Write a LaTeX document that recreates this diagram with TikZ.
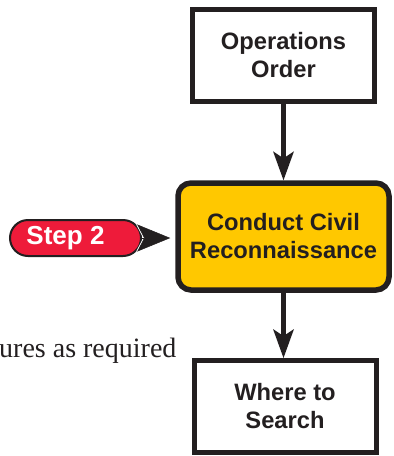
\documentclass[tikz,border=0pt]{standalone}
\usepackage{fontspec}
\usetikzlibrary{arrows.meta}
\newfontfamily\hvb{Liberation Sans}[BoldFont={* Bold}]
\newfontfamily\tms{Liberation Serif}
\definecolor{ink}{HTML}{231F20}
\definecolor{stepred}{HTML}{EE1B3A}
\definecolor{actyellow}{HTML}{FFC800}
\tikzset{
  boxtext/.style={font=\hvb\bfseries\fontsize{23.7}{28}\selectfont, text=ink, align=center, inner sep=0pt},
  plainbox/.style={boxtext, draw=ink, line width=5pt, fill=white, minimum width=182pt, minimum height=92pt},
  activity/.style={boxtext, draw=ink, line width=5.5pt, fill=actyellow, rounded corners=13pt, minimum width=211pt, minimum height=107pt},
  steppill/.style={draw=ink, line width=2pt, fill=stepred, rounded corners=18pt, minimum width=131pt, minimum height=36pt, inner sep=0pt,
    font=\hvb\bfseries\fontsize{26}{30}\selectfont, text=white},
  flow/.style={draw=ink, line width=4.5pt, -{Stealth[length=29pt, width=21pt, inset=7pt, line width=0pt]}},
  headhalo/.style={draw=white, line width=3pt, -{Stealth[length=33pt, width=27pt, inset=7pt]}},
  headfill/.style={draw=ink, fill=ink, line width=0.5pt, -{Stealth[length=33pt, width=27pt, inset=7pt]}}
}
\begin{document}
\begin{tikzpicture}[x=1pt, y=-1pt]
  \useasboundingbox (0,0) rectangle (394,456);

  % flow boxes
  \node[plainbox] (ops) at (283.5,55.5) {Operations\\Order};
  \node[activity] (civil) at (283.5,236.5) {Conduct Civil\\Reconnaissance};
  \node[plainbox] (where) at (285,406.5) {Where to\\Search};

  % step marker
  \node[steppill] (step) at (75.5,238) {Step 2\hspace*{20pt}};

  % connectors
  \draw[flow] (ops.south -| 283.5,0) -- (civil.north);
  \draw[flow] (civil.south) -- (civil.south |- where.north);
  \draw[headhalo, shorten >=6pt] (step.east) -- (step.east -| civil.west);
  \draw[headfill, shorten >=5pt] (step.east) -- (step.east -| civil.west);

  % running text at the left margin
  \node[anchor=base west, inner sep=0pt, font=\tms\fontsize{28}{32}\selectfont, text=ink] (note) at (-1,357) {ures as required};
\end{tikzpicture}
\end{document}
